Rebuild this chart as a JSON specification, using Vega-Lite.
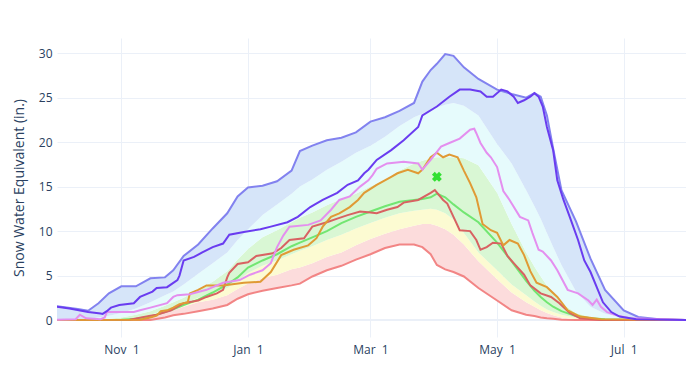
{
  "$schema": "https://vega.github.io/schema/vega-lite/v6.json",
  "width": 629,
  "height": 299,
  "autosize": {"type": "none"},
  "padding": {"left": 57, "top": 38, "right": 0, "bottom": 43},
  "background": "white",
  "config": {
    "view": {"stroke": null},
    "font": "Open Sans",
    "axis": {"labelFont": "Open Sans", "titleFont": "Open Sans", "labelColor": "#2a3f5f", "titleColor": "#2a3f5f", "gridColor": "#ebf0f8", "gridWidth": 1, "domain": false, "ticks": false, "labelFontSize": 12}
  },
  "datasets": {
    "bands": [
      {"date": "2022/10/01", "min": 0, "p10": 0, "p30": 0, "median": 0, "p70": 0, "p90": 0, "max": 1.55},
      {"date": "2022/10/11", "min": 0, "p10": 0, "p30": 0, "median": 0, "p70": 0, "p90": 0.05, "max": 1.25},
      {"date": "2022/10/16", "min": 0, "p10": 0, "p30": 0, "median": 0, "p70": 0.02, "p90": 0.15, "max": 1.05},
      {"date": "2022/10/21", "min": 0, "p10": 0, "p30": 0, "median": 0, "p70": 0.05, "p90": 0.3, "max": 1.9},
      {"date": "2022/10/26", "min": 0, "p10": 0, "p30": 0, "median": 0, "p70": 0.15, "p90": 0.5, "max": 3.0},
      {"date": "2022/11/01", "min": 0, "p10": 0, "p30": 0.05, "median": 0.05, "p70": 0.3, "p90": 0.8, "max": 3.8},
      {"date": "2022/11/08", "min": 0, "p10": 0.05, "p30": 0.2, "median": 0.15, "p70": 0.6, "p90": 1.3, "max": 3.8},
      {"date": "2022/11/15", "min": 0, "p10": 0.4, "p30": 0.6, "median": 0.4, "p70": 1.0, "p90": 2.0, "max": 4.7},
      {"date": "2022/11/22", "min": 0.3, "p10": 0.9, "p30": 1.1, "median": 0.9, "p70": 1.6, "p90": 2.8, "max": 4.8},
      {"date": "2022/11/26", "min": 0.55, "p10": 1.1, "p30": 1.4, "median": 1.2, "p70": 2.0, "p90": 3.2, "max": 5.6},
      {"date": "2022/12/01", "min": 0.7, "p10": 1.5, "p30": 1.8, "median": 1.7, "p70": 2.5, "p90": 4.0, "max": 7.2},
      {"date": "2022/12/08", "min": 1.0, "p10": 2.0, "p30": 2.5, "median": 2.3, "p70": 3.4, "p90": 5.2, "max": 8.5},
      {"date": "2022/12/15", "min": 1.3, "p10": 2.3, "p30": 3.0, "median": 3.1, "p70": 4.3, "p90": 6.4, "max": 10.3},
      {"date": "2022/12/22", "min": 1.7, "p10": 2.8, "p30": 3.6, "median": 4.0, "p70": 5.5, "p90": 7.6, "max": 12.0},
      {"date": "2022/12/27", "min": 2.4, "p10": 3.5, "p30": 4.4, "median": 4.8, "p70": 6.8, "p90": 9.0, "max": 13.9},
      {"date": "2023/01/01", "min": 2.9, "p10": 4.1, "p30": 5.3, "median": 5.9, "p70": 8.0, "p90": 10.2, "max": 14.9},
      {"date": "2023/01/08", "min": 3.3, "p10": 4.7, "p30": 6.1, "median": 6.7, "p70": 9.3, "p90": 11.8, "max": 15.1},
      {"date": "2023/01/15", "min": 3.6, "p10": 5.1, "p30": 6.7, "median": 7.4, "p70": 10.1, "p90": 13.0, "max": 15.6},
      {"date": "2023/01/22", "min": 3.9, "p10": 5.7, "p30": 7.4, "median": 8.3, "p70": 11.0, "p90": 14.2, "max": 16.8},
      {"date": "2023/01/26", "min": 4.1, "p10": 5.9, "p30": 7.8, "median": 8.7, "p70": 11.5, "p90": 15.0, "max": 19.0},
      {"date": "2023/02/01", "min": 4.9, "p10": 6.4, "p30": 8.3, "median": 9.3, "p70": 12.1, "p90": 15.8, "max": 19.6},
      {"date": "2023/02/08", "min": 5.6, "p10": 7.1, "p30": 9.0, "median": 10.0, "p70": 12.9, "p90": 16.9, "max": 20.2},
      {"date": "2023/02/15", "min": 6.1, "p10": 7.6, "p30": 9.6, "median": 10.9, "p70": 13.6, "p90": 17.8, "max": 20.5},
      {"date": "2023/02/22", "min": 6.8, "p10": 8.4, "p30": 10.3, "median": 11.6, "p70": 14.2, "p90": 18.8, "max": 21.1},
      {"date": "2023/03/01", "min": 7.4, "p10": 9.1, "p30": 10.9, "median": 12.2, "p70": 15.0, "p90": 19.6, "max": 22.3},
      {"date": "2023/03/08", "min": 8.1, "p10": 9.7, "p30": 11.5, "median": 12.8, "p70": 15.8, "p90": 20.6, "max": 22.8},
      {"date": "2023/03/15", "min": 8.5, "p10": 10.2, "p30": 12.0, "median": 13.3, "p70": 16.8, "p90": 21.8, "max": 23.5},
      {"date": "2023/03/22", "min": 8.5, "p10": 10.6, "p30": 12.3, "median": 13.5, "p70": 17.6, "p90": 22.8, "max": 24.4},
      {"date": "2023/03/26", "min": 8.2, "p10": 10.8, "p30": 12.4, "median": 13.6, "p70": 17.9, "p90": 23.2, "max": 26.8},
      {"date": "2023/03/30", "min": 7.4, "p10": 10.8, "p30": 12.5, "median": 13.8, "p70": 18.2, "p90": 23.6, "max": 28.1},
      {"date": "2023/04/02", "min": 6.2, "p10": 10.6, "p30": 12.4, "median": 14.2, "p70": 18.3, "p90": 23.9, "max": 28.8},
      {"date": "2023/04/06", "min": 5.7, "p10": 10.2, "p30": 12.0, "median": 13.8, "p70": 18.3, "p90": 24.2, "max": 29.9},
      {"date": "2023/04/10", "min": 5.4, "p10": 9.6, "p30": 11.3, "median": 13.0, "p70": 18.3, "p90": 24.4, "max": 29.7},
      {"date": "2023/04/15", "min": 4.9, "p10": 8.5, "p30": 9.8, "median": 12.1, "p70": 18.2, "p90": 24.1, "max": 28.4},
      {"date": "2023/04/22", "min": 3.6, "p10": 6.6, "p30": 7.6, "median": 11.0, "p70": 17.4, "p90": 23.0, "max": 27.1},
      {"date": "2023/05/01", "min": 2.2, "p10": 4.6, "p30": 5.6, "median": 8.7, "p70": 14.3, "p90": 19.8, "max": 25.9},
      {"date": "2023/05/08", "min": 1.1, "p10": 3.1, "p30": 4.0, "median": 6.6, "p70": 10.8, "p90": 17.6, "max": 25.4},
      {"date": "2023/05/15", "min": 0.6, "p10": 2.0, "p30": 2.8, "median": 4.4, "p70": 7.6, "p90": 14.6, "max": 25.0},
      {"date": "2023/05/19", "min": 0.45, "p10": 1.5, "p30": 2.1, "median": 3.3, "p70": 6.0, "p90": 12.8, "max": 25.5},
      {"date": "2023/05/22", "min": 0.3, "p10": 1.1, "p30": 1.6, "median": 2.6, "p70": 4.9, "p90": 11.4, "max": 25.1},
      {"date": "2023/05/25", "min": 0.2, "p10": 0.8, "p30": 1.2, "median": 2.0, "p70": 3.9, "p90": 9.8, "max": 23.0},
      {"date": "2023/05/28", "min": 0.15, "p10": 0.55, "p30": 0.9, "median": 1.5, "p70": 3.0, "p90": 8.2, "max": 19.3},
      {"date": "2023/06/01", "min": 0.05, "p10": 0.3, "p30": 0.6, "median": 1.0, "p70": 1.9, "p90": 6.2, "max": 14.6},
      {"date": "2023/06/08", "min": 0, "p10": 0.1, "p30": 0.25, "median": 0.45, "p70": 0.8, "p90": 3.2, "max": 11.1},
      {"date": "2023/06/15", "min": 0, "p10": 0.05, "p30": 0.1, "median": 0.2, "p70": 0.35, "p90": 1.5, "max": 6.9},
      {"date": "2023/06/22", "min": 0, "p10": 0, "p30": 0.05, "median": 0.1, "p70": 0.15, "p90": 0.7, "max": 3.4},
      {"date": "2023/07/01", "min": 0, "p10": 0, "p30": 0, "median": 0.05, "p70": 0.05, "p90": 0.2, "max": 1.1},
      {"date": "2023/07/08", "min": 0, "p10": 0, "p30": 0, "median": 0, "p70": 0, "p90": 0.08, "max": 0.35},
      {"date": "2023/07/18", "min": 0, "p10": 0, "p30": 0, "median": 0, "p70": 0, "p90": 0.03, "max": 0.1},
      {"date": "2023/07/31", "min": 0, "p10": 0, "p30": 0, "median": 0, "p70": 0, "p90": 0, "max": 0.02}
    ],
    "years": [
      {"date": "2022/10/01", "series": "Year 1", "swe": 0},
      {"date": "2022/11/05", "series": "Year 1", "swe": 0.05},
      {"date": "2022/11/15", "series": "Year 1", "swe": 0.5},
      {"date": "2022/11/18", "series": "Year 1", "swe": 0.6},
      {"date": "2022/11/25", "series": "Year 1", "swe": 1.1},
      {"date": "2022/12/01", "series": "Year 1", "swe": 1.9},
      {"date": "2022/12/08", "series": "Year 1", "swe": 2.2},
      {"date": "2022/12/12", "series": "Year 1", "swe": 2.6},
      {"date": "2022/12/17", "series": "Year 1", "swe": 3.0},
      {"date": "2022/12/20", "series": "Year 1", "swe": 3.4},
      {"date": "2022/12/22", "series": "Year 1", "swe": 4.8},
      {"date": "2022/12/23", "series": "Year 1", "swe": 5.3},
      {"date": "2022/12/27", "series": "Year 1", "swe": 6.3},
      {"date": "2023/01/01", "series": "Year 1", "swe": 6.5},
      {"date": "2023/01/05", "series": "Year 1", "swe": 7.2},
      {"date": "2023/01/13", "series": "Year 1", "swe": 7.5},
      {"date": "2023/01/17", "series": "Year 1", "swe": 8.1},
      {"date": "2023/01/21", "series": "Year 1", "swe": 9.0},
      {"date": "2023/01/28", "series": "Year 1", "swe": 9.2},
      {"date": "2023/02/01", "series": "Year 1", "swe": 10.5},
      {"date": "2023/02/08", "series": "Year 1", "swe": 11.0},
      {"date": "2023/02/13", "series": "Year 1", "swe": 11.4},
      {"date": "2023/02/18", "series": "Year 1", "swe": 11.8},
      {"date": "2023/02/24", "series": "Year 1", "swe": 12.2},
      {"date": "2023/03/01", "series": "Year 1", "swe": 12.1},
      {"date": "2023/03/04", "series": "Year 1", "swe": 12.0},
      {"date": "2023/03/09", "series": "Year 1", "swe": 12.4},
      {"date": "2023/03/14", "series": "Year 1", "swe": 12.7},
      {"date": "2023/03/17", "series": "Year 1", "swe": 13.2},
      {"date": "2023/03/24", "series": "Year 1", "swe": 13.5},
      {"date": "2023/03/30", "series": "Year 1", "swe": 14.3},
      {"date": "2023/04/01", "series": "Year 1", "swe": 14.6},
      {"date": "2023/04/05", "series": "Year 1", "swe": 13.5},
      {"date": "2023/04/07", "series": "Year 1", "swe": 13.1},
      {"date": "2023/04/10", "series": "Year 1", "swe": 11.6},
      {"date": "2023/04/13", "series": "Year 1", "swe": 10.1},
      {"date": "2023/04/18", "series": "Year 1", "swe": 10.0},
      {"date": "2023/04/21", "series": "Year 1", "swe": 9.0},
      {"date": "2023/04/23", "series": "Year 1", "swe": 7.9},
      {"date": "2023/04/26", "series": "Year 1", "swe": 8.2},
      {"date": "2023/04/29", "series": "Year 1", "swe": 8.7},
      {"date": "2023/05/03", "series": "Year 1", "swe": 8.6},
      {"date": "2023/05/06", "series": "Year 1", "swe": 7.2},
      {"date": "2023/05/09", "series": "Year 1", "swe": 6.4},
      {"date": "2023/05/14", "series": "Year 1", "swe": 5.1},
      {"date": "2023/05/17", "series": "Year 1", "swe": 3.9},
      {"date": "2023/05/22", "series": "Year 1", "swe": 3.0},
      {"date": "2023/05/27", "series": "Year 1", "swe": 2.6},
      {"date": "2023/05/31", "series": "Year 1", "swe": 1.9},
      {"date": "2023/06/05", "series": "Year 1", "swe": 0.8},
      {"date": "2023/06/10", "series": "Year 1", "swe": 0.2},
      {"date": "2023/06/20", "series": "Year 1", "swe": 0},
      {"date": "2023/07/31", "series": "Year 1", "swe": 0},

      {"date": "2022/10/01", "series": "Year 2", "swe": 0},
      {"date": "2022/11/10", "series": "Year 2", "swe": 0.05},
      {"date": "2022/11/15", "series": "Year 2", "swe": 0.3},
      {"date": "2022/11/18", "series": "Year 2", "swe": 0.5},
      {"date": "2022/11/20", "series": "Year 2", "swe": 1.0},
      {"date": "2022/11/23", "series": "Year 2", "swe": 1.1},
      {"date": "2022/11/26", "series": "Year 2", "swe": 1.4},
      {"date": "2022/11/29", "series": "Year 2", "swe": 1.8},
      {"date": "2022/12/03", "series": "Year 2", "swe": 2.0},
      {"date": "2022/12/04", "series": "Year 2", "swe": 3.0},
      {"date": "2022/12/08", "series": "Year 2", "swe": 3.4},
      {"date": "2022/12/12", "series": "Year 2", "swe": 3.9},
      {"date": "2022/12/20", "series": "Year 2", "swe": 3.9},
      {"date": "2022/12/30", "series": "Year 2", "swe": 4.2},
      {"date": "2023/01/07", "series": "Year 2", "swe": 4.3},
      {"date": "2023/01/12", "series": "Year 2", "swe": 5.4},
      {"date": "2023/01/17", "series": "Year 2", "swe": 7.3},
      {"date": "2023/01/23", "series": "Year 2", "swe": 7.9},
      {"date": "2023/01/30", "series": "Year 2", "swe": 8.4},
      {"date": "2023/02/03", "series": "Year 2", "swe": 9.2},
      {"date": "2023/02/06", "series": "Year 2", "swe": 10.5},
      {"date": "2023/02/10", "series": "Year 2", "swe": 11.6},
      {"date": "2023/02/14", "series": "Year 2", "swe": 12.0},
      {"date": "2023/02/19", "series": "Year 2", "swe": 12.7},
      {"date": "2023/02/23", "series": "Year 2", "swe": 13.5},
      {"date": "2023/02/26", "series": "Year 2", "swe": 14.3},
      {"date": "2023/03/04", "series": "Year 2", "swe": 15.2},
      {"date": "2023/03/11", "series": "Year 2", "swe": 16.1},
      {"date": "2023/03/14", "series": "Year 2", "swe": 16.5},
      {"date": "2023/03/19", "series": "Year 2", "swe": 16.9},
      {"date": "2023/03/24", "series": "Year 2", "swe": 16.5},
      {"date": "2023/03/26", "series": "Year 2", "swe": 16.9},
      {"date": "2023/03/30", "series": "Year 2", "swe": 18.3},
      {"date": "2023/04/02", "series": "Year 2", "swe": 18.8},
      {"date": "2023/04/05", "series": "Year 2", "swe": 18.3},
      {"date": "2023/04/08", "series": "Year 2", "swe": 18.6},
      {"date": "2023/04/12", "series": "Year 2", "swe": 18.3},
      {"date": "2023/04/15", "series": "Year 2", "swe": 16.8},
      {"date": "2023/04/18", "series": "Year 2", "swe": 15.4},
      {"date": "2023/04/21", "series": "Year 2", "swe": 13.8},
      {"date": "2023/04/24", "series": "Year 2", "swe": 10.8},
      {"date": "2023/04/28", "series": "Year 2", "swe": 10.1},
      {"date": "2023/05/01", "series": "Year 2", "swe": 9.8},
      {"date": "2023/05/04", "series": "Year 2", "swe": 8.4},
      {"date": "2023/05/07", "series": "Year 2", "swe": 9.0},
      {"date": "2023/05/11", "series": "Year 2", "swe": 8.6},
      {"date": "2023/05/14", "series": "Year 2", "swe": 7.3},
      {"date": "2023/05/17", "series": "Year 2", "swe": 5.5},
      {"date": "2023/05/20", "series": "Year 2", "swe": 4.2},
      {"date": "2023/05/25", "series": "Year 2", "swe": 3.7},
      {"date": "2023/05/30", "series": "Year 2", "swe": 2.6},
      {"date": "2023/06/04", "series": "Year 2", "swe": 1.1},
      {"date": "2023/06/10", "series": "Year 2", "swe": 0.4},
      {"date": "2023/06/20", "series": "Year 2", "swe": 0.1},
      {"date": "2023/07/31", "series": "Year 2", "swe": 0},

      {"date": "2022/10/01", "series": "Year 3", "swe": 0.05},
      {"date": "2022/10/10", "series": "Year 3", "swe": 0.1},
      {"date": "2022/10/12", "series": "Year 3", "swe": 0.6},
      {"date": "2022/10/15", "series": "Year 3", "swe": 0.2},
      {"date": "2022/10/22", "series": "Year 3", "swe": 0.1},
      {"date": "2022/10/24", "series": "Year 3", "swe": 0.3},
      {"date": "2022/10/25", "series": "Year 3", "swe": 0.9},
      {"date": "2022/11/07", "series": "Year 3", "swe": 0.9},
      {"date": "2022/11/10", "series": "Year 3", "swe": 1.1},
      {"date": "2022/11/15", "series": "Year 3", "swe": 1.4},
      {"date": "2022/11/23", "series": "Year 3", "swe": 1.9},
      {"date": "2022/11/26", "series": "Year 3", "swe": 2.6},
      {"date": "2022/11/28", "series": "Year 3", "swe": 2.8},
      {"date": "2022/12/04", "series": "Year 3", "swe": 2.9},
      {"date": "2022/12/12", "series": "Year 3", "swe": 3.4},
      {"date": "2022/12/20", "series": "Year 3", "swe": 4.2},
      {"date": "2022/12/28", "series": "Year 3", "swe": 4.5},
      {"date": "2023/01/02", "series": "Year 3", "swe": 5.1},
      {"date": "2023/01/08", "series": "Year 3", "swe": 5.6},
      {"date": "2023/01/12", "series": "Year 3", "swe": 6.4},
      {"date": "2023/01/15", "series": "Year 3", "swe": 8.2},
      {"date": "2023/01/18", "series": "Year 3", "swe": 9.5},
      {"date": "2023/01/21", "series": "Year 3", "swe": 10.5},
      {"date": "2023/01/30", "series": "Year 3", "swe": 10.7},
      {"date": "2023/02/05", "series": "Year 3", "swe": 11.2},
      {"date": "2023/02/10", "series": "Year 3", "swe": 12.4},
      {"date": "2023/02/14", "series": "Year 3", "swe": 13.5},
      {"date": "2023/02/19", "series": "Year 3", "swe": 13.9},
      {"date": "2023/02/24", "series": "Year 3", "swe": 15.0},
      {"date": "2023/02/28", "series": "Year 3", "swe": 15.7},
      {"date": "2023/03/02", "series": "Year 3", "swe": 16.3},
      {"date": "2023/03/04", "series": "Year 3", "swe": 17.0},
      {"date": "2023/03/09", "series": "Year 3", "swe": 17.6},
      {"date": "2023/03/17", "series": "Year 3", "swe": 17.8},
      {"date": "2023/03/24", "series": "Year 3", "swe": 17.6},
      {"date": "2023/03/26", "series": "Year 3", "swe": 16.9},
      {"date": "2023/03/30", "series": "Year 3", "swe": 18.0},
      {"date": "2023/04/04", "series": "Year 3", "swe": 19.5},
      {"date": "2023/04/08", "series": "Year 3", "swe": 19.9},
      {"date": "2023/04/13", "series": "Year 3", "swe": 20.4},
      {"date": "2023/04/18", "series": "Year 3", "swe": 21.4},
      {"date": "2023/04/20", "series": "Year 3", "swe": 21.5},
      {"date": "2023/04/21", "series": "Year 3", "swe": 21.0},
      {"date": "2023/04/23", "series": "Year 3", "swe": 19.9},
      {"date": "2023/04/26", "series": "Year 3", "swe": 18.8},
      {"date": "2023/04/28", "series": "Year 3", "swe": 18.3},
      {"date": "2023/05/01", "series": "Year 3", "swe": 17.2},
      {"date": "2023/05/04", "series": "Year 3", "swe": 14.5},
      {"date": "2023/05/07", "series": "Year 3", "swe": 13.5},
      {"date": "2023/05/12", "series": "Year 3", "swe": 11.6},
      {"date": "2023/05/16", "series": "Year 3", "swe": 11.2},
      {"date": "2023/05/18", "series": "Year 3", "swe": 9.8},
      {"date": "2023/05/21", "series": "Year 3", "swe": 7.9},
      {"date": "2023/05/23", "series": "Year 3", "swe": 7.7},
      {"date": "2023/05/27", "series": "Year 3", "swe": 6.7},
      {"date": "2023/05/30", "series": "Year 3", "swe": 5.6},
      {"date": "2023/06/04", "series": "Year 3", "swe": 3.4},
      {"date": "2023/06/09", "series": "Year 3", "swe": 3.0},
      {"date": "2023/06/14", "series": "Year 3", "swe": 2.2},
      {"date": "2023/06/16", "series": "Year 3", "swe": 1.7},
      {"date": "2023/06/18", "series": "Year 3", "swe": 2.3},
      {"date": "2023/06/20", "series": "Year 3", "swe": 1.5},
      {"date": "2023/06/23", "series": "Year 3", "swe": 0.9},
      {"date": "2023/06/28", "series": "Year 3", "swe": 0.5},
      {"date": "2023/07/04", "series": "Year 3", "swe": 0.2},
      {"date": "2023/07/31", "series": "Year 3", "swe": 0},

      {"date": "2022/10/01", "series": "Year 4", "swe": 1.5},
      {"date": "2022/10/07", "series": "Year 4", "swe": 1.3},
      {"date": "2022/10/16", "series": "Year 4", "swe": 0.9},
      {"date": "2022/10/22", "series": "Year 4", "swe": 0.75},
      {"date": "2022/10/23", "series": "Year 4", "swe": 0.7},
      {"date": "2022/10/25", "series": "Year 4", "swe": 1.0},
      {"date": "2022/10/27", "series": "Year 4", "swe": 1.4},
      {"date": "2022/10/31", "series": "Year 4", "swe": 1.7},
      {"date": "2022/11/07", "series": "Year 4", "swe": 1.9},
      {"date": "2022/11/10", "series": "Year 4", "swe": 2.6},
      {"date": "2022/11/16", "series": "Year 4", "swe": 3.2},
      {"date": "2022/11/18", "series": "Year 4", "swe": 3.6},
      {"date": "2022/11/23", "series": "Year 4", "swe": 3.7},
      {"date": "2022/11/28", "series": "Year 4", "swe": 4.5},
      {"date": "2022/11/29", "series": "Year 4", "swe": 5.0},
      {"date": "2022/12/01", "series": "Year 4", "swe": 6.7},
      {"date": "2022/12/06", "series": "Year 4", "swe": 7.1},
      {"date": "2022/12/10", "series": "Year 4", "swe": 7.6},
      {"date": "2022/12/15", "series": "Year 4", "swe": 8.2},
      {"date": "2022/12/20", "series": "Year 4", "swe": 8.6},
      {"date": "2022/12/23", "series": "Year 4", "swe": 9.6},
      {"date": "2022/12/30", "series": "Year 4", "swe": 9.9},
      {"date": "2023/01/07", "series": "Year 4", "swe": 10.2},
      {"date": "2023/01/12", "series": "Year 4", "swe": 10.5},
      {"date": "2023/01/20", "series": "Year 4", "swe": 11.0},
      {"date": "2023/01/25", "series": "Year 4", "swe": 11.6},
      {"date": "2023/01/31", "series": "Year 4", "swe": 12.7},
      {"date": "2023/02/06", "series": "Year 4", "swe": 13.5},
      {"date": "2023/02/13", "series": "Year 4", "swe": 14.3},
      {"date": "2023/02/18", "series": "Year 4", "swe": 15.2},
      {"date": "2023/02/23", "series": "Year 4", "swe": 15.7},
      {"date": "2023/02/26", "series": "Year 4", "swe": 16.5},
      {"date": "2023/02/28", "series": "Year 4", "swe": 16.9},
      {"date": "2023/03/04", "series": "Year 4", "swe": 18.0},
      {"date": "2023/03/11", "series": "Year 4", "swe": 19.1},
      {"date": "2023/03/17", "series": "Year 4", "swe": 20.2},
      {"date": "2023/03/24", "series": "Year 4", "swe": 21.7},
      {"date": "2023/03/26", "series": "Year 4", "swe": 23.0},
      {"date": "2023/04/02", "series": "Year 4", "swe": 24.0},
      {"date": "2023/04/08", "series": "Year 4", "swe": 25.1},
      {"date": "2023/04/13", "series": "Year 4", "swe": 25.9},
      {"date": "2023/04/18", "series": "Year 4", "swe": 25.9},
      {"date": "2023/04/23", "series": "Year 4", "swe": 25.7},
      {"date": "2023/04/26", "series": "Year 4", "swe": 25.1},
      {"date": "2023/04/29", "series": "Year 4", "swe": 25.1},
      {"date": "2023/05/03", "series": "Year 4", "swe": 25.9},
      {"date": "2023/05/06", "series": "Year 4", "swe": 25.7},
      {"date": "2023/05/09", "series": "Year 4", "swe": 25.1},
      {"date": "2023/05/11", "series": "Year 4", "swe": 24.4},
      {"date": "2023/05/14", "series": "Year 4", "swe": 24.7},
      {"date": "2023/05/17", "series": "Year 4", "swe": 25.1},
      {"date": "2023/05/19", "series": "Year 4", "swe": 25.5},
      {"date": "2023/05/21", "series": "Year 4", "swe": 25.1},
      {"date": "2023/05/23", "series": "Year 4", "swe": 24.0},
      {"date": "2023/05/25", "series": "Year 4", "swe": 21.7},
      {"date": "2023/05/28", "series": "Year 4", "swe": 19.1},
      {"date": "2023/05/30", "series": "Year 4", "swe": 15.7},
      {"date": "2023/06/02", "series": "Year 4", "swe": 13.5},
      {"date": "2023/06/05", "series": "Year 4", "swe": 11.6},
      {"date": "2023/06/09", "series": "Year 4", "swe": 9.0},
      {"date": "2023/06/12", "series": "Year 4", "swe": 6.7},
      {"date": "2023/06/15", "series": "Year 4", "swe": 5.4},
      {"date": "2023/06/18", "series": "Year 4", "swe": 3.7},
      {"date": "2023/06/21", "series": "Year 4", "swe": 2.0},
      {"date": "2023/06/25", "series": "Year 4", "swe": 0.9},
      {"date": "2023/06/29", "series": "Year 4", "swe": 0.4},
      {"date": "2023/07/07", "series": "Year 4", "swe": 0.1},
      {"date": "2023/07/31", "series": "Year 4", "swe": 0}
    ],
    "marker": [
      {"date": "2023/04/02", "swe": 16.1}
    ]
  },
  "encoding": {
    "x": {
      "field": "date", "type": "temporal", "title": null,
      "scale": {"domain": [{"year": 2022, "month": 10, "date": 1}, {"year": 2023, "month": 7, "date": 31}], "nice": false},
      "axis": {
        "values": [{"year": 2022, "month": 11, "date": 1}, {"year": 2023, "month": 1, "date": 1}, {"year": 2023, "month": 3, "date": 1}, {"year": 2023, "month": 5, "date": 1}, {"year": 2023, "month": 7, "date": 1}],
        "format": "%b\u00a0\u00a0%-d", "labelPadding": 7, "grid": true, "labelFlush": false, "labelOverlap": false
      }
    }
  },
  "layer": [
    {
      "data": {"values": [{}]},
      "mark": {"type": "rule", "color": "#ebf0f8", "strokeWidth": 2},
      "encoding": {"x": null, "y": {"datum": 0, "type": "quantitative"}}
    },
    {
      "data": {"name": "bands"},
      "mark": {"type": "area", "color": "#fcdcdc", "opacity": 1, "clip": true},
      "encoding": {"y": {"field": "min", "type": "quantitative", "scale": {"domain": [-1.9, 31.7], "nice": false, "zero": false},
        "axis": {"values": [0, 5, 10, 15, 20, 25, 30], "title": "Snow Water Equivalent (in.)", "titleFontSize": 14, "titleFontWeight": "normal", "labelPadding": 5, "titleX": -38, "titleY": 149.5, "titleAlign": "center", "titleBaseline": "middle", "titleAngle": -90, "grid": true}},
        "y2": {"field": "p10"}}
    },
    {
      "data": {"name": "bands"},
      "mark": {"type": "area", "color": "#fcfbd2", "opacity": 1, "clip": true},
      "encoding": {"y": {"field": "p10", "type": "quantitative"}, "y2": {"field": "p30"}}
    },
    {
      "data": {"name": "bands"},
      "mark": {"type": "area", "color": "#d9f7d4", "opacity": 1, "clip": true},
      "encoding": {"y": {"field": "p30", "type": "quantitative"}, "y2": {"field": "p70"}}
    },
    {
      "data": {"name": "bands"},
      "mark": {"type": "area", "color": "#e6fbfc", "opacity": 1, "clip": true},
      "encoding": {"y": {"field": "p70", "type": "quantitative"}, "y2": {"field": "p90"}}
    },
    {
      "data": {"name": "bands"},
      "mark": {"type": "area", "color": "#d6e5f9", "opacity": 1, "clip": true},
      "encoding": {"y": {"field": "p90", "type": "quantitative"}, "y2": {"field": "max"}}
    },
    {
      "data": {"name": "bands"},
      "mark": {"type": "line", "color": "#f28585", "strokeWidth": 2, "clip": true},
      "encoding": {"y": {"field": "min", "type": "quantitative"}}
    },
    {
      "data": {"name": "bands"},
      "mark": {"type": "line", "color": "#72e672", "strokeWidth": 2, "clip": true},
      "encoding": {"y": {"field": "median", "type": "quantitative"}}
    },
    {
      "data": {"name": "bands"},
      "mark": {"type": "line", "color": "#8282ef", "strokeWidth": 2, "clip": true},
      "encoding": {"y": {"field": "max", "type": "quantitative"}}
    },
    {
      "data": {"name": "years"},
      "mark": {"type": "line", "strokeWidth": 2, "clip": true},
      "encoding": {
        "y": {"field": "swe", "type": "quantitative"},
        "color": {"field": "series", "type": "nominal", "legend": null,
          "scale": {"domain": ["Year 1", "Year 2", "Year 3", "Year 4"], "range": ["#d86262", "#e09a35", "#e48fef", "#6a3cf0"]}},
        "order": {"field": "date", "type": "temporal"}
      }
    },
    {
      "data": {"name": "marker"},
      "mark": {"type": "point", "shape": "cross", "angle": 45, "filled": true, "size": 100, "color": "#33e033", "opacity": 1, "strokeWidth": 0},
      "encoding": {"y": {"field": "swe", "type": "quantitative"}}
    }
  ]
}
